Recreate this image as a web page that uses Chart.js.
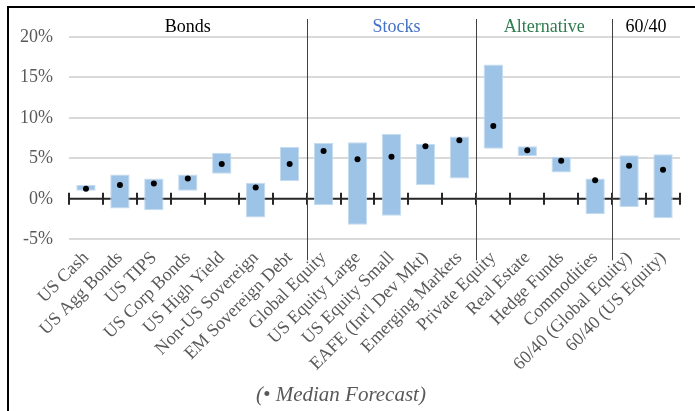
<!DOCTYPE html>
<html lang="en">
<head>
    <meta charset="UTF-8">
    <script src="https://cdn.jsdelivr.net/npm/chart.js"></script>
    <title>Range of Expected Returns</title>
    <style>
        body { margin: 0; background: #fff; }
        #wrap { position: relative; width: 695px; height: 411px; overflow: hidden; }
        #frame { position: absolute; left: 7px; top: 6px; width: 700px; height: 420px;
                 border-left: 2px solid #000; border-top: 2px solid #000; }
        canvas { position: absolute; left: 0; top: 0; }
    </style>
</head>
<body>
    <div id="wrap">
        <div id="frame"></div>
        <canvas id="canvas" width="695" height="411"></canvas>
    </div>
    <script>
        // asset classes and forecast ranges (% per year)
        const categories = ['US Cash', 'US Agg Bonds', 'US TIPS', 'US Corp Bonds', 'US High Yield',
            'Non-US Sovereign', 'EM Sovereign Debt', 'Global Equity', 'US Equity Large', 'US Equity Small',
            "EAFE (Int'l Dev Mkt)", 'Emerging Markets', 'Private Equity', 'Real Estate', 'Hedge Funds',
            'Commodities', '60/40 (Global Equity)', '60/40 (US Equity)'];
        const lows    = [1.0, -1.2, -1.4, 1.0, 3.1, -2.3, 2.2, -0.8, -3.2, -2.1, 1.7, 2.5, 6.2, 5.3, 3.25, -1.9, -1.0, -2.4];
        const highs   = [1.7, 3.0, 2.5, 3.0, 5.7, 2.0, 6.4, 6.9, 7.0, 8.0, 6.8, 7.7, 16.6, 6.5, 5.2, 2.5, 5.4, 5.5];
        const medians = [1.25, 1.7, 1.9, 2.5, 4.3, 1.4, 4.3, 5.9, 4.9, 5.2, 6.5, 7.25, 9.0, 6.0, 4.7, 2.3, 4.1, 3.6];

        // group headers
        const groupNames  = ['Bonds', 'Stocks', 'Alternative', '60/40'];
        const groupSizes  = [7, 5, 4, 2];
        const groupColors = ['#000000', '#4472c4', '#2e7d4f', '#000000'];

        const yTicks = [-5, 0, 5, 10, 15, 20];

        const serif = "'Liberation Serif', 'Times New Roman', serif";

        // zero line with cross ticks, group separators and headers, footnote
        const decorations = {
            id: 'decorations',
            beforeDatasetsDraw(chart) {
                const { ctx, chartArea, scales } = chart;
                const y0 = scales.y.getPixelForValue(0);
                const step = (chartArea.right - chartArea.left) / categories.length;
                ctx.save();
                ctx.strokeStyle = '#262626';
                ctx.lineWidth = 2;
                ctx.beginPath();
                ctx.moveTo(chartArea.left, y0);
                ctx.lineTo(chartArea.right, y0);
                for (let i = 0; i <= categories.length; i++) {
                    const x = Math.round(chartArea.left + i * step);
                    ctx.moveTo(x, y0 - 6);
                    ctx.lineTo(x, y0 + 6);
                }
                ctx.stroke();

                // separators between groups
                ctx.strokeStyle = '#404040';
                ctx.lineWidth = 1;
                let idx = 0;
                ctx.beginPath();
                groupSizes.slice(0, -1).forEach(n => {
                    idx += n;
                    const x = Math.round(chartArea.left + idx * step) + 0.5;
                    ctx.moveTo(x, chartArea.top - 18);
                    ctx.lineTo(x, chartArea.bottom + 21);
                });
                ctx.stroke();
                ctx.restore();
            },
            afterDraw(chart) {
                const { ctx, chartArea } = chart;
                const step = (chartArea.right - chartArea.left) / categories.length;
                ctx.save();
                ctx.font = '18px ' + serif;
                ctx.textAlign = 'center';
                ctx.textBaseline = 'alphabetic';
                let start = 0;
                groupNames.forEach((name, i) => {
                    const mid = start + groupSizes[i] / 2;
                    ctx.fillStyle = groupColors[i];
                    ctx.fillText(name, chartArea.left + mid * step + (i === 1 ? 5 : 0), chartArea.top - 5);
                    start += groupSizes[i];
                });

                ctx.font = 'italic 21px ' + serif;
                ctx.fillStyle = '#595959';
                ctx.fillText('(\u2022 Median Forecast)', 341, 401);
                ctx.restore();
            }
        };

        new Chart(document.getElementById('canvas'), {
            data: {
                labels: categories,
                datasets: [
                    {
                        type: 'line',
                        label: 'Median',
                        data: medians,
                        showLine: false,
                        pointRadius: 3,
                        pointHoverRadius: 3,
                        pointBackgroundColor: '#000',
                        pointBorderWidth: 0,
                        order: 0,
                    },
                    {
                        type: 'bar',
                        label: 'Range',
                        data: lows.map((lo, i) => [lo, highs[i]]),
                        backgroundColor: '#9dc3e6',
                        borderColor: '#c5dcf0',
                        borderWidth: 1,
                        borderSkipped: false,
                        barPercentage: 0.57,
                        categoryPercentage: 1,
                        order: 1,
                    },
                ],
            },
            options: {
                responsive: false,
                animation: false,
                layout: { padding: { left: 4, right: 15, top: 37, bottom: 36 } },
                plugins: {
                    legend: { display: false },
                    tooltip: { enabled: false },
                },
                scales: {
                    x: {
                        grid: { display: false },
                        border: { display: false },
                        ticks: {
                            maxRotation: 45,
                            minRotation: 45,
                            autoSkip: false,
                            padding: 0,
                            color: '#595959',
                            font: { family: serif, size: 18 },
                        },
                    },
                    y: {
                        min: -5,
                        max: 20,
                        afterBuildTicks: axis => { axis.ticks = yTicks.map(v => ({ value: v })); },
                        grid: {
                            color: c => (c.tick && c.tick.value === 0 ? 'rgba(0,0,0,0)' : '#d9d9d9'),
                            lineWidth: 2,
                            drawTicks: false,
                        },
                        border: { display: false },
                        ticks: {
                            padding: 16,
                            color: '#595959',
                            font: { family: serif, size: 18 },
                            callback: v => v + '%',
                        },
                    },
                },
            },
            plugins: [decorations],
        });
    </script>
</body>
</html>
